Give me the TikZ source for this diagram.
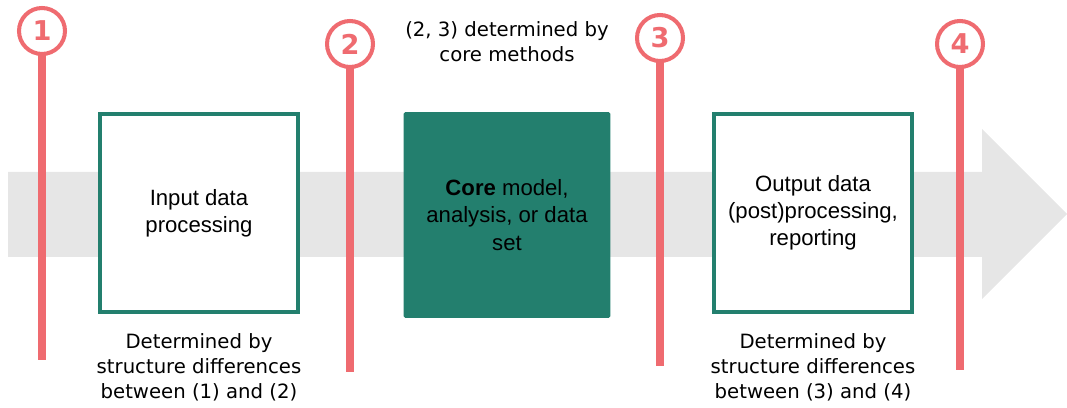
\documentclass[tikz,border=0pt]{standalone}
\usepackage{fontspec}
\setmainfont{Liberation Sans}
\newfontfamily\notefont{DejaVu Sans}
\definecolor{stepred}{HTML}{EF6B70}
\definecolor{boxgreen}{HTML}{237F6E}
\definecolor{flowgray}{HTML}{E6E6E6}
\tikzset{
  marker/.style={circle, draw=stepred, line width=2.3pt, fill=white,
    minimum size=0.92cm, inner sep=0pt, text=stepred,
    font=\notefont\bfseries\fontsize{15.5}{17}\selectfont},
  pole/.style={draw=stepred, line width=5.1pt},
  stage/.style={draw=boxgreen, line width=2.2pt, minimum width=3.95cm,
    minimum height=3.95cm, align=center,
    font=\fontsize{12.6}{15.5}\selectfont},
  note/.style={align=center, font=\notefont\fontsize{11.2}{14.3}\selectfont}
}
\begin{document}
\begin{tikzpicture}[x=0.02cm, y=-0.02cm]
   \useasboundingbox (0,0) rectangle (1067,408);
   % flow arrow in the background
   \fill[flowgray] (8,172) -- (982,172) -- (982,129) -- (1067,214)
      -- (982,299) -- (982,257) -- (8,257) -- cycle;
   % stages
   \node[stage, fill=white] (input) at (199,213) {Input data\\processing};
   \node[stage, draw=none, fill=boxgreen, minimum width=4.14cm,
      minimum height=4.12cm, rounded corners=1pt] (core) at (507,215)
      {\textbf{Core} model,\\analysis, or data\\set};
   \node[stage, fill=white] (output) at (813,213)
      {Output data\\(post)processing,\\reporting};
   % step markers
   \coordinate (end1) at (42,360);
   \coordinate (end2) at (350,372);
   \coordinate (end3) at (660,366);
   \coordinate (end4) at (960,370);
   \draw[pole] (42,40) -- (end1);
   \draw[pole] (350,50) -- (end2);
   \draw[pole] (660,44) -- (end3);
   \draw[pole] (960,50) -- (end4);
   \node[marker] (m1) at (42,31) {1};
   \node[marker] (m2) at (350,44) {2};
   \node[marker] (m3) at (660,38) {3};
   \node[marker] (m4) at (960,44) {4};
   % notes
   \node[note] (coretxt) at (507,42) {(2, 3) determined by\\core methods};
   \node[note] (inputtxt) at (199,367)
      {Determined by\\structure differences\\between (1) and (2)};
   \node[note] (outputtxt) at (813,367)
      {Determined by\\structure differences\\between (3) and (4)};
\end{tikzpicture}
\end{document}
